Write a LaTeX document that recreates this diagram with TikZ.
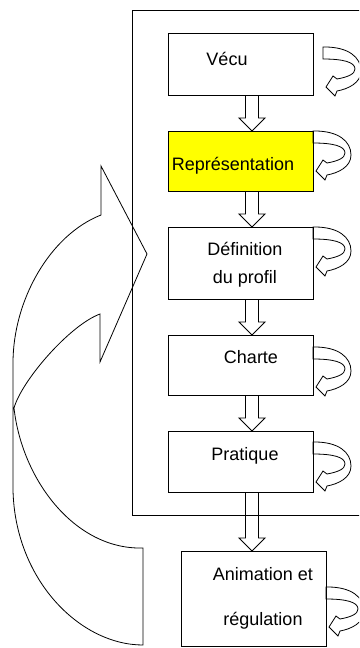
\documentclass[tikz,border=0pt]{standalone}
\usepackage{fontspec}
\setmainfont{Liberation Sans}
\usetikzlibrary{calc}
\definecolor{boxyellow}{RGB}{255,255,0}
\tikzset{
  box/.style={draw, line width=1pt, inner sep=0pt, outer sep=0pt, minimum width=145pt},
  txt/.style={font=\fontsize{18}{20}\selectfont, inner sep=0pt, anchor=base},
  hollow/.style={draw, line width=0.9pt, line join=miter, to path={
    ($(\tikztostart)+(-6.5,0)$) -- ($(\tikztotarget)+(-6.5,-13)$) -- ($(\tikztotarget)+(-13,-13)$)
    -- (\tikztotarget) -- ($(\tikztotarget)+(13,-13)$) -- ($(\tikztotarget)+(6.5,-13)$)
    -- ($(\tikztostart)+(6.5,0)$)}},
  turnarrow/.pic={
    \draw[line width=0.8pt, line join=miter] (0,0) -- (2,0) .. controls (25,0) and (38,10) .. (38,24)
      .. controls (38,36) and (25,42) .. (14,44) -- (12,49) -- (3,40) -- (10,29) -- (14,32)
      .. controls (25,30) and (32,27) .. (32,22) .. controls (32,15) and (20,12) .. (0,12) -- cycle;
  },
  bigarrow/.style={draw, line width=0.8pt, line join=miter}
}
\begin{document}
\begin{tikzpicture}[x=1pt,y=-1pt]
\clip (0,0) rectangle (359,648);
\fill[white] (0,0) rectangle (359,648);
% outer frame
\node[draw, line width=1pt, inner sep=0pt, outer sep=0pt, minimum width=238pt, minimum height=505pt] (frame) at (251,262.5) {};
% boxes
\node[box, minimum height=62pt] (vecu) at (240.5,64) {};
\node[box, minimum height=60pt, fill=boxyellow] (rep) at (240.5,161) {};
\node[box, minimum height=72pt] (def) at (240.5,263) {};
\node[box, minimum height=60pt] (charte) at (240.5,365) {};
\node[box, minimum height=61pt] (prat) at (240.5,461.5) {};
\node[box, minimum height=95pt] (anim) at (253.5,598.5) {};
% texts
\node[txt] (t1) at (227,65) {Vécu};
\node[txt] (t2) at (233,170) {Représentation};
\node[txt] (t3) at (245,255) {Définition};
\node[txt] (t4) at (245,283) {du profil};
\node[txt] (t5) at (251,363) {Charte};
\node[txt] (t6) at (245,460) {Pratique};
\node[txt] (t7) at (263,580) {Animation et};
\node[txt] (t8) at (263,625) {régulation};
% hollow down arrows
\coordinate (ax) at (252,0);
\draw[hollow] (vecu.south -| ax) to (rep.north -| ax);
\draw[hollow] (rep.south -| ax) to (def.north -| ax);
\draw[hollow] (def.south -| ax) to (charte.north -| ax);
\draw[hollow] (charte.south -| ax) to (prat.north -| ax);
\draw[hollow] (prat.south -| ax) to (anim.north -| ax);
% self loops
\pic at (323,47) {turnarrow};
\pic at (313,131) {turnarrow};
\pic at (313,227) {turnarrow};
\pic at (313,347) {turnarrow};
\pic at (313,442) {turnarrow};
\pic at (326,587) {turnarrow};
% big curved feedback arrow
\draw[bigarrow] (143,645) .. controls (80,645) and (15,580) .. (13,490)
  -- (13,363) .. controls (13,300) and (50,235) .. (101,215)
  -- (101,166) -- (147,254) -- (100,362) -- (100,314)
  .. controls (70,325) and (22,380) .. (14,408)
  .. controls (22,480) and (75,550) .. (143,548) -- cycle;
\end{tikzpicture}
\end{document}
